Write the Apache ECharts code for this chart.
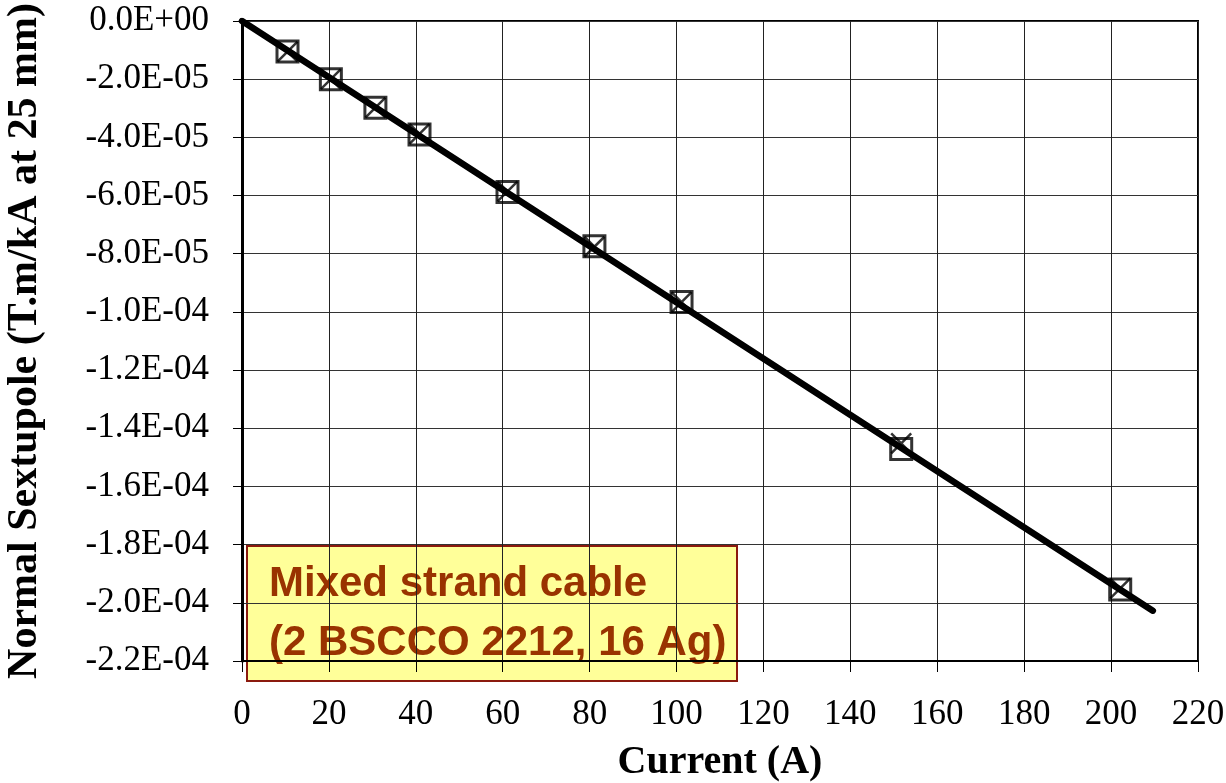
<!DOCTYPE html>
<html>
<head>
<meta charset="utf-8">
<script src="https://cdn.jsdelivr.net/npm/echarts@6/dist/echarts.min.js"></script>
<style>
  html, body { margin: 0; padding: 0; background: #fff; }
  #chart { width: 1226px; height: 783px; }
</style>
</head>
<body>
<div id="chart"></div>
<script>
// Measured current (A) for each run
const currents = [10.47, 20.45, 30.7, 40.85, 61.1, 81.1, 101.15, 151.7, 202.1];
// Normal sextupole, square-marker series (T.m/kA at 25 mm)
const sextupoleSquare = [-1.05e-5, -2.00e-5, -2.98e-5, -3.90e-5, -5.88e-5, -7.74e-5, -9.66e-5, -14.71e-5, -19.54e-5];
// Normal sextupole, cross-marker series
const sextupoleCross = [-1.05e-5, -2.00e-5, -2.98e-5, -3.88e-5, -5.86e-5, -7.76e-5, -9.66e-5, -14.52e-5, -19.50e-5];
// Linear fit endpoints
const fitCurrent = [0, 209.6];
const fitValue = [0, -20.27e-5];

// Axis settings
const xTicks = { min: 0, max: 220, interval: 20 };
const yTicks = { min: -2.2e-4, max: 0, interval: 2e-5 };

const annotationLines = ['Mixed strand cable', '(2 BSCCO 2212, 16 Ag)'];

function sciLabel(v) {
  if (Math.abs(v) < 1e-12) return '0.0E+00';
  const s = v.toExponential(1); // e.g. "-2.0e-5"
  const m = s.match(/^(-?\d\.\d)e([+-])(\d+)$/);
  if (!m) return s;
  const exp = m[3].length < 2 ? '0' + m[3] : m[3];
  return m[1] + 'E' + m[2] + exp;
}

const pairs = (xs, ys) => xs.map((x, i) => [x, ys[i]]);

const chart = echarts.init(document.getElementById('chart'), null, { renderer: 'canvas' });

const serif = 'Liberation Serif, Times New Roman, serif';

chart.setOption({
  backgroundColor: '#ffffff',
  animation: false,
  grid: {
    left: 242, right: 28, top: 21, bottom: 122,
    outerBoundsMode: 'none',
    containLabel: false,
    show: true, borderColor: '#000', borderWidth: 2, backgroundColor: 'transparent'
  },
  xAxis: {
    type: 'value',
    min: xTicks.min, max: xTicks.max, interval: xTicks.interval,
    name: 'Current (A)',
    nameLocation: 'middle',
    nameGap: 82,
    nameTextStyle: { fontFamily: serif, fontWeight: 'bold', fontSize: 40, color: '#000', lineHeight: 40 },
    axisLine: { show: true, onZero: false, lineStyle: { color: '#000', width: 2 } },
    axisTick: { show: true, inside: false, length: 11, lineStyle: { color: '#000', width: 1 } },
    axisLabel: { fontFamily: serif, fontSize: 35, color: '#000', margin: 36 },
    splitLine: { show: true, lineStyle: { color: '#222', width: 1 } }
  },
  yAxis: {
    type: 'value',
    min: yTicks.min, max: yTicks.max, interval: yTicks.interval,
    name: 'Normal Sextupole (T.m/kA at 25 mm)',
    nameLocation: 'middle',
    nameGap: 196,
    nameRotate: 90,
    nameTextStyle: { fontFamily: serif, fontWeight: 'bold', fontSize: 42, color: '#000', lineHeight: 42 },
    axisLine: { show: true, onZero: false, lineStyle: { color: '#000', width: 3 } },
    axisTick: { show: true, inside: false, length: 9, lineStyle: { color: '#000', width: 1 } },
    axisLabel: { fontFamily: serif, fontSize: 35, color: '#000', margin: 33, formatter: sciLabel },
    splitLine: { show: true, lineStyle: { color: '#333', width: 1 } }
  },
  series: [
    {
      name: 'fit',
      type: 'line',
      data: pairs(fitCurrent, fitValue),
      showSymbol: false,
      symbol: 'none',
      lineStyle: { color: '#000', width: 6.5, cap: 'round' },
      z: 3
    },
    {
      name: 'square',
      type: 'scatter',
      data: pairs(currents, sextupoleSquare),
      symbol: 'rect',
      symbolSize: 21,
      itemStyle: { color: 'transparent', borderColor: '#000', borderWidth: 3 },
      z: 4
    },
    {
      name: 'cross',
      type: 'scatter',
      data: pairs(currents, sextupoleCross),
      symbol: 'path://M0,0L10,10M10,0L0,10',
      symbolSize: 20,
      itemStyle: { color: 'transparent', borderColor: '#000', borderWidth: 2.5 },
      z: 4
    }
  ],
  graphic: [
    {
      type: 'group',
      z: 100,
      children: [
        {
          type: 'rect',
          shape: { x: 247, y: 546, width: 490, height: 135 },
          style: { fill: '#FFFF99', stroke: '#8B1A0E', lineWidth: 2 }
        },
        {
          type: 'text',
          x: 269, y: 584,
          style: {
            text: annotationLines[0],
            fontFamily: 'Liberation Sans, Arial, sans-serif',
            fontWeight: 'bold', fontSize: 42, fill: '#993300',
            verticalAlign: 'middle', align: 'left'
          }
        },
        {
          type: 'text',
          x: 269, y: 643,
          style: {
            text: annotationLines[1],
            fontFamily: 'Liberation Sans, Arial, sans-serif',
            fontWeight: 'bold', fontSize: 42, fill: '#993300',
            verticalAlign: 'middle', align: 'left'
          }
        }
      ]
    }
  ]
});
</script>
</body>
</html>
